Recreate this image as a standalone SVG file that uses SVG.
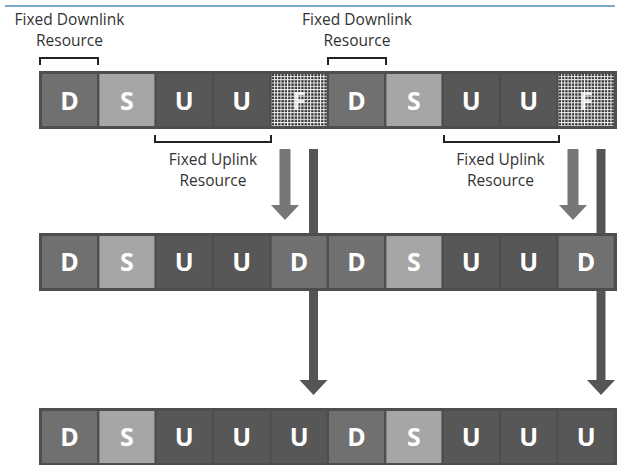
<svg xmlns="http://www.w3.org/2000/svg" width="618" height="465" viewBox="0 0 618 465">
<defs>
<pattern id="grid" x="0" y="0" width="3.3" height="3.3" patternUnits="userSpaceOnUse">
<rect width="3.3" height="3.3" fill="#f0f0f0"/>
<rect x="1" y="1" width="2.3" height="2.3" fill="#333333"/>
</pattern>
<style>
.bar{fill:#4e4e4e;}
.D{fill:#707070;}
.S{fill:#a6a6a6;}
.U{fill:#575757;}
.F{fill:url(#grid);}
.lt{font-family:"Open Sans","DejaVu Sans",sans-serif;font-weight:bold;font-size:25px;fill:#ffffff;text-anchor:middle;}
.lbl{font-family:"Open Sans","DejaVu Sans",sans-serif;font-size:15.5px;fill:#333333;text-anchor:middle;}
.br{fill:none;stroke:#222222;stroke-width:2;}
.sa{fill:#777777;}
.la{fill:#555555;}
</style>
</defs>
<rect width="618" height="465" fill="#ffffff"/>
<line x1="5" y1="6" x2="615" y2="6" stroke="#4f8fba" stroke-width="1.5"/>

<g id="labels">
<text class="lbl" x="69.5" y="25">Fixed Downlink</text>
<text class="lbl" x="69.5" y="46">Resource</text>
<text class="lbl" x="357" y="25">Fixed Downlink</text>
<text class="lbl" x="357" y="46">Resource</text>
<text class="lbl" x="213" y="165">Fixed Uplink</text>
<text class="lbl" x="213" y="186">Resource</text>
<text class="lbl" x="500.5" y="165">Fixed Uplink</text>
<text class="lbl" x="500.5" y="186">Resource</text>
</g>
<g id="brackets">
<path class="br" d="M40,65 V58 H98 V65"/>
<path class="br" d="M328,65 V58 H386 V65"/>
<path class="br" d="M155,135 V142 H271 V135"/>
<path class="br" d="M444,135 V142 H559 V135"/>
</g>

<g id="connectors">
<polygon class="la" points="309,149 318,149 318,380 327.5,380 313.5,395 299.5,380 309,380"/>
<polygon class="la" points="596.5,149 605.5,149 605.5,380 615,380 601,395 587,380 596.5,380"/>
<polygon class="sa" points="279.5,149 290.5,149 290.5,205 299,205 285,220 271,205 279.5,205"/>
<polygon class="sa" points="567.5,149 578.5,149 578.5,205 587,205 573,220 559,205 567.5,205"/>
</g>

<g id="row1">
<rect class="bar" x="39" y="71" width="578" height="58"/>
<g id="r1c1"><rect class="D" x="42" y="74" width="55" height="52"/><text class="lt" x="69.5" y="110">D</text></g>
<g id="r1c2"><rect class="S" x="99.4" y="74" width="55" height="52"/><text class="lt" x="126.9" y="110">S</text></g>
<g id="r1c3"><rect class="U" x="156.8" y="74" width="55" height="52"/><text class="lt" x="184.3" y="110">U</text></g>
<g id="r1c4"><rect class="U" x="214.2" y="74" width="55" height="52"/><text class="lt" x="241.7" y="110">U</text></g>
<g id="r1c5"><rect class="F" x="271.6" y="74" width="55" height="52"/><text class="lt" x="299.1" y="110" opacity="0.85">F</text></g>
<g id="r1c6"><rect class="D" x="329" y="74" width="55" height="52"/><text class="lt" x="356.5" y="110">D</text></g>
<g id="r1c7"><rect class="S" x="386.4" y="74" width="55" height="52"/><text class="lt" x="413.9" y="110">S</text></g>
<g id="r1c8"><rect class="U" x="443.8" y="74" width="55" height="52"/><text class="lt" x="471.3" y="110">U</text></g>
<g id="r1c9"><rect class="U" x="501.2" y="74" width="55" height="52"/><text class="lt" x="528.7" y="110">U</text></g>
<g id="r1c10"><rect class="F" x="558.6" y="74" width="55" height="52"/><text class="lt" x="586.1" y="110" opacity="0.85">F</text></g>
</g>

<g id="row2">
<rect class="bar" x="39" y="233" width="578" height="58"/>
<g id="r2c1"><rect class="D" x="42" y="236" width="55" height="52"/><text class="lt" x="69.5" y="271">D</text></g>
<g id="r2c2"><rect class="S" x="99.4" y="236" width="55" height="52"/><text class="lt" x="126.9" y="271">S</text></g>
<g id="r2c3"><rect class="U" x="156.8" y="236" width="55" height="52"/><text class="lt" x="184.3" y="271">U</text></g>
<g id="r2c4"><rect class="U" x="214.2" y="236" width="55" height="52"/><text class="lt" x="241.7" y="271">U</text></g>
<g id="r2c5"><rect class="D" x="271.6" y="236" width="55" height="52" fill="#767676"/><text class="lt" x="299.1" y="271">D</text></g>
<g id="r2c6"><rect class="D" x="329" y="236" width="55" height="52"/><text class="lt" x="356.5" y="271">D</text></g>
<g id="r2c7"><rect class="S" x="386.4" y="236" width="55" height="52"/><text class="lt" x="413.9" y="271">S</text></g>
<g id="r2c8"><rect class="U" x="443.8" y="236" width="55" height="52"/><text class="lt" x="471.3" y="271">U</text></g>
<g id="r2c9"><rect class="U" x="501.2" y="236" width="55" height="52"/><text class="lt" x="528.7" y="271">U</text></g>
<g id="r2c10"><rect class="D" x="558.6" y="236" width="55" height="52"/><text class="lt" x="586.1" y="271">D</text></g>
</g>

<g id="row3">
<rect class="bar" x="39" y="408" width="578" height="60"/>
<g id="r3c1"><rect class="D" x="42" y="411" width="55" height="52"/><text class="lt" x="69.5" y="446">D</text></g>
<g id="r3c2"><rect class="S" x="99.4" y="411" width="55" height="52"/><text class="lt" x="126.9" y="446">S</text></g>
<g id="r3c3"><rect class="U" x="156.8" y="411" width="55" height="52"/><text class="lt" x="184.3" y="446">U</text></g>
<g id="r3c4"><rect class="U" x="214.2" y="411" width="55" height="52"/><text class="lt" x="241.7" y="446">U</text></g>
<g id="r3c5"><rect class="U" x="271.6" y="411" width="55" height="52"/><text class="lt" x="299.1" y="446">U</text></g>
<g id="r3c6"><rect class="D" x="329" y="411" width="55" height="52"/><text class="lt" x="356.5" y="446">D</text></g>
<g id="r3c7"><rect class="S" x="386.4" y="411" width="55" height="52"/><text class="lt" x="413.9" y="446">S</text></g>
<g id="r3c8"><rect class="U" x="443.8" y="411" width="55" height="52"/><text class="lt" x="471.3" y="446">U</text></g>
<g id="r3c9"><rect class="U" x="501.2" y="411" width="55" height="52"/><text class="lt" x="528.7" y="446">U</text></g>
<g id="r3c10"><rect class="U" x="558.6" y="411" width="55" height="52"/><text class="lt" x="586.1" y="446">U</text></g>
</g>
</svg>
